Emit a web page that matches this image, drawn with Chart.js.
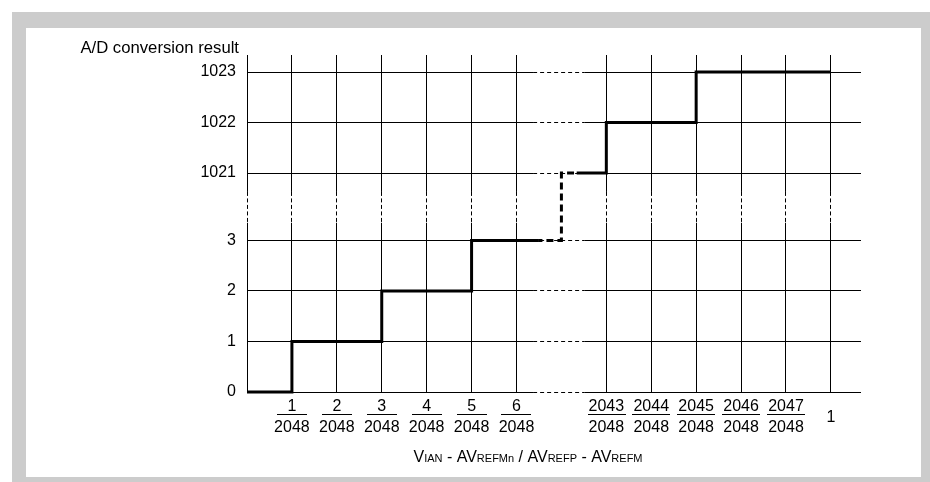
<!DOCTYPE html>
<html>
<head>
<meta charset="utf-8">
<script src="https://cdn.jsdelivr.net/npm/chart.js@4.4.1/dist/chart.umd.min.js"></script>
<style>
  html, body { margin: 0; padding: 0; background: #fff; }
  #frame { position: absolute; left: 12px; top: 12px; width: 918px; height: 470px; background: #cccccc; }
  #panel { position: absolute; left: 26px; top: 28px; width: 895px; height: 449px; background: #fff; }
  #wrap { position: absolute; left: 0; top: 0; width: 930px; height: 482px; }
</style>
</head>
<body>
<div id="frame"></div>
<div id="panel"></div>
<div id="wrap"><canvas id="adChart" width="930" height="482"></canvas></div>
<script>
// output code vs. input, input given as n/2048 of full scale
const codes = [0, 1, 2, 3, 1021, 1022, 1023];
const codeStart = [0, 1, 3, 5, 2041, 2043, 2045];
const lastInput = 2048;
const xTickNums = [1, 2, 3, 4, 5, 6, 2043, 2044, 2045, 2046, 2047, 2048];
const xTickDen = 2048;
const yTickCodes = [0, 1, 2, 3, 1021, 1022, 1023];

const FONT = "'Liberation Sans', Arial, Helvetica, sans-serif";

// both axes are broken: 7..2043 on x and 3..1021 on y get squeezed
function axisX(n) { if (n <= 7) return n; if (n >= 2043) return n - 2035; return 7; }
function axisY(c) { return c <= 3 ? c : c - 1021 + 4 + 1 / 3; }

// where the dotted parts go (axis units)
const gridBreakX = [6.37, 7.52];
const gridBreakY = [3.35, 3.96];
const stairBreakX = [6.48, 7.34];

const stair = codes.map((c, i) => ({ x: axisX(codeStart[i]), y: axisY(c) }));
stair.push({ x: axisX(lastInput), y: axisY(codes[codes.length - 1]) });

function crisp(p) { return Math.round(p - 0.5) + 0.5; }

const breaks = {
  id: 'breaks',
  beforeDatasetsDraw(chart) {
    const { ctx, chartArea: a, scales: { x, y } } = chart;
    const x0 = x.getPixelForValue(gridBreakX[0]), x1 = x.getPixelForValue(gridBreakX[1]);
    const y0 = y.getPixelForValue(gridBreakY[1]), y1 = y.getPixelForValue(gridBreakY[0]);
    ctx.save();
    ctx.fillStyle = '#fff';
    ctx.fillRect(x0, a.top - 2, x1 - x0, a.bottom - a.top + 4);
    ctx.fillRect(a.left - 2, y0, a.right - a.left + 4, y1 - y0);
    ctx.strokeStyle = '#000';
    ctx.lineWidth = 1;
    ctx.setLineDash([4, 3]);
    yTickCodes.forEach(c => {
      const py = crisp(y.getPixelForValue(axisY(c)));
      ctx.beginPath(); ctx.moveTo(x0, py); ctx.lineTo(x1, py); ctx.stroke();
    });
    ctx.setLineDash([4, 2.5]);
    [0, ...xTickNums].forEach(n => {
      const px = crisp(x.getPixelForValue(axisX(n)));
      ctx.beginPath(); ctx.moveTo(px, y0); ctx.lineTo(px, y1); ctx.stroke();
    });
    ctx.restore();
  }
};

const stairClip = {
  id: 'stairClip',
  beforeDatasetDraw(chart, args) {
    const { ctx, scales: { x } } = chart;
    const b0 = x.getPixelForValue(stairBreakX[0]), b1 = x.getPixelForValue(stairBreakX[1]);
    ctx.save();
    ctx.beginPath();
    if (args.index === 0) {
      ctx.rect(0, 0, b0, chart.height);
      ctx.rect(b1, 0, chart.width - b1, chart.height);
    } else {
      ctx.rect(b0, 0, b1 - b0, chart.height);
    }
    ctx.clip();
  },
  afterDatasetDraw(chart) { chart.ctx.restore(); }
};

const labels = {
  id: 'labels',
  afterDraw(chart) {
    const { ctx, chartArea: a, scales: { x } } = chart;
    ctx.save();
    ctx.fillStyle = '#000';
    ctx.font = '16px ' + FONT;
    ctx.textAlign = 'center';
    ctx.textBaseline = 'alphabetic';
    xTickNums.forEach(n => {
      const px = x.getPixelForValue(axisX(n));
      if (n === xTickDen) { ctx.fillText('1', px, a.bottom + 29.5); return; }
      const num = String(n);
      const w = Math.max(30, ctx.measureText(num).width + 2);
      ctx.fillText(num, px, a.bottom + 18.5);
      ctx.fillRect(Math.round(px - w / 2), a.bottom + 22, Math.round(w), 1);
      ctx.fillText(String(xTickDen), px, a.bottom + 39.5);
    });

    ctx.textAlign = 'right';
    ctx.font = '16.7px ' + FONT;
    ctx.fillText('A/D conversion result', a.left - 8, a.top - 2);

    // x title, the index letters are small caps on the same baseline
    const parts = [['V', 16], ['IAN', 11], [' - AV', 16], ['REFMn', 11],
                   [' / AV', 16], ['REFP', 11], [' - AV', 16], ['REFM', 11]];
    let total = 0;
    parts.forEach(p => { ctx.font = p[1] + 'px ' + FONT; total += ctx.measureText(p[0]).width; });
    let cx = a.left + 281 - total / 2;
    ctx.textAlign = 'left';
    parts.forEach(p => {
      ctx.font = p[1] + 'px ' + FONT;
      ctx.fillText(p[0], cx, a.bottom + 70);
      cx += ctx.measureText(p[0]).width;
    });
    ctx.restore();
  }
};

Chart.defaults.font.family = FONT;

new Chart(document.getElementById('adChart'), {
  type: 'line',
  data: {
    datasets: [{
      data: stair,
      borderColor: '#000',
      borderWidth: 3,
      stepped: true,
      pointRadius: 0,
      clip: false
    }, {
      data: stair,
      borderColor: '#000',
      borderWidth: 3,
      borderDash: [7, 4],
      stepped: true,
      pointRadius: 0,
      clip: false
    }]
  },
  options: {
    responsive: false,
    animation: false,
    layout: { padding: { left: 0, top: 55, right: 69, bottom: 90 } },
    plugins: {
      legend: { display: false },
      tooltip: { enabled: false }
    },
    scales: {
      x: {
        type: 'linear',
        min: 0,
        max: 13.67,
        border: { display: false },
        grid: { color: '#000', lineWidth: 1, drawTicks: false },
        ticks: { display: false },
        afterBuildTicks: s => { s.ticks = [0, ...xTickNums].map(n => ({ value: axisX(n) })); },
        afterFit: s => { s.height = 0; }
      },
      y: {
        type: 'linear',
        min: 0,
        max: 6.67,
        border: { display: false },
        grid: { color: '#000', lineWidth: 1, drawTicks: false },
        ticks: {
          padding: 11,
          color: '#000',
          font: { size: 16 },
          callback: (v, i) => yTickCodes[i]
        },
        afterBuildTicks: s => { s.ticks = yTickCodes.map(c => ({ value: axisY(c) })); },
        afterFit: s => { s.width = 247; }
      }
    }
  },
  plugins: [breaks, stairClip, labels]
});
</script>
</body>
</html>
